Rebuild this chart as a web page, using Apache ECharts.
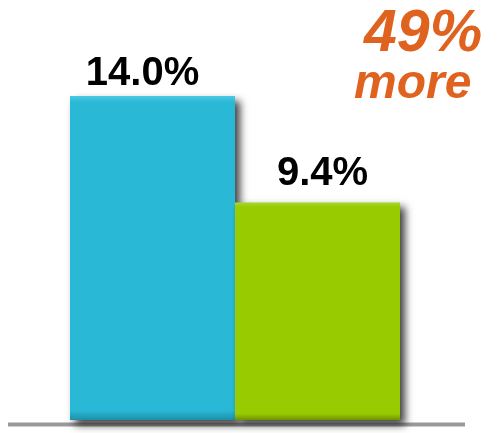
<!DOCTYPE html>
<html>
<head>
<meta charset="utf-8">
<script src="https://cdn.jsdelivr.net/npm/echarts@6/dist/echarts.min.js"></script>
<style>html,body{margin:0;padding:0;background:#fff;}#c{width:500px;height:433px;}</style>
</head>
<body>
<div id="c"></div>
<script>
const categories = ['A', 'B'];
const values = [14.0, 9.4];
const valueLabels = ['14.0%', '9.4%'];
const calloutLines = ['49%', 'more'];

const colors = [
  ['#4cc8e2', '#29b9d6', '#1e8fa8'],
  ['#aad633', '#99cc00', '#6f9400']
];
const labelOffsets = [[-10, 0], [5, -6]];

const chart = echarts.init(document.getElementById('c'));
chart.setOption({
  animation: false,
  grid: { left: 70, right: 100, top: 96, bottom: 13 },
  xAxis: {
    type: 'category', data: categories,
    axisLine: { show: false }, axisTick: { show: false }, axisLabel: { show: false }
  },
  yAxis: { type: 'value', min: 0, max: 14, show: false, splitLine: { show: false } },
  graphic: [
    { type: 'line', z: -1, zlevel: 0, shape: { x1: 8, y1: 424.5, x2: 465, y2: 424.5 },
      style: { stroke: '#999999', lineWidth: 4 } },
    { type: 'text', left: 364, top: 5, style: { text: calloutLines[0], font: 'italic bold 59px "Liberation Sans", Arial', fill: '#e0621f' } },
    { type: 'text', left: 354, top: 61, style: { text: calloutLines[1], font: 'italic bold 48px "Liberation Sans", Arial', fill: '#e0621f' } }
  ],
  series: [{
    type: 'bar',
    z: 5,
    barCategoryGap: 0,
    data: values.map((v, i) => ({
      value: v,
      itemStyle: {
        color: new echarts.graphic.LinearGradient(0, 0, 0, 1, [
          { offset: 0, color: colors[i][0] },
          { offset: 0.02, color: colors[i][1] },
          { offset: 0.97, color: colors[i][1] },
          { offset: 1, color: colors[i][2] }
        ]),
        shadowColor: 'rgba(0,0,0,0.75)', shadowBlur: 8, shadowOffsetX: 5, shadowOffsetY: 5
      },
      label: { offset: labelOffsets[i] }
    })),
    label: {
      show: true, position: 'top', distance: 2,
      formatter: p => valueLabels[p.dataIndex],
      fontFamily: '"Liberation Sans", Arial', fontWeight: 'bold', fontSize: 40, color: '#000'
    }
  }]
});
</script>
</body>
</html>
